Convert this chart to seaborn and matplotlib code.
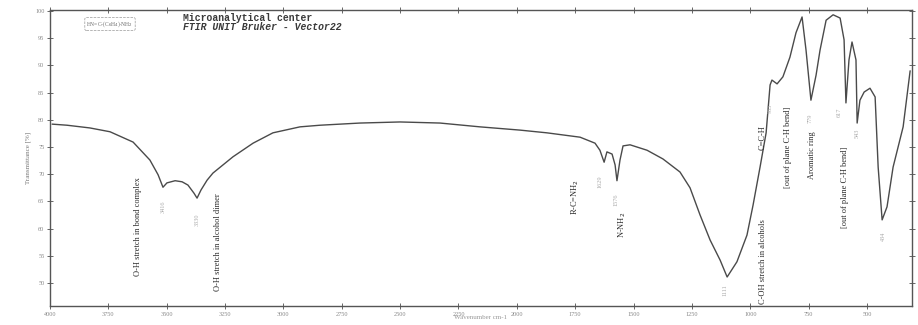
import pandas as pd
import seaborn as sns
import matplotlib.pyplot as plt

# spectrum (wavenumber cm-1, transmittance %)
wavenumber = [3991, 3927, 3829, 3743, 3644, 3572, 3537, 3516, 3499, 3464,
              3434, 3409, 3383, 3370, 3353, 3327, 3302, 3259, 3216, 3130,
              3045, 2929, 2843, 2672, 2500, 2329, 2158, 1986, 1871, 1729,
              1665, 1644, 1626, 1614, 1592, 1579, 1571, 1558, 1545, 1515,
              1442, 1374, 1301, 1258, 1215, 1172, 1129, 1099, 1057, 1014,
              988, 958, 932, 915, 907, 885, 860, 830, 804, 778,
              761, 740, 718, 701, 675, 645, 615, 598, 590, 577,
              564, 547, 542, 530, 512, 487, 465, 452, 435, 414,
              388, 345, 315]
transmittance = [79.2, 79.0, 78.5, 77.8, 75.9, 72.6, 69.9, 67.6, 68.4, 68.8,
                 68.6, 68.0, 66.5, 65.6, 67.1, 68.9, 70.2, 71.7, 73.2, 75.7,
                 77.6, 78.7, 79.0, 79.4, 79.6, 79.4, 78.7, 78.1, 77.6, 76.8,
                 75.7, 74.4, 72.2, 74.1, 73.7, 71.7, 68.8, 72.6, 75.2, 75.4,
                 74.4, 72.8, 70.4, 67.5, 62.5, 57.9, 54.2, 51.1, 53.9, 58.8,
                 64.3, 71.3, 77.6, 86.4, 87.3, 86.6, 87.9, 91.5, 96.0, 98.9,
                 92.8, 83.6, 88.2, 92.8, 98.3, 99.3, 98.7, 94.7, 83.1, 91.0,
                 94.3, 91.0, 79.4, 83.6, 85.1, 85.8, 84.2, 71.3, 61.6, 64.0,
                 71.3, 78.7, 89.0]

x_ticks = [4000, 3750, 3500, 3250, 3000, 2750, 2500, 2250, 2000, 1750,
           1500, 1250, 1000, 750, 500]
y_ticks = [100, 95, 90, 85, 80, 75, 70, 65, 60, 55, 50]

# band assignments: (text, wavenumber, transmittance)
assignments = [
    ("O-H stretch in bond complex", 3623, 60.3),
    ("O-H stretch in alcohol dimer", 3280, 57.5),
    ("R-C=NH$_2$", 1751, 65.8),
    ("N-NH$_2$", 1549, 60.7),
    ("C-OH stretch in alcohols", 945, 53.9),
    ("C=C-H", 949, 76.7),
    ("[out of plane C-H bend]", 838, 75.0),
    ("Aromatic ring", 735, 73.5),
    ("[out of plane C-H bend]", 594, 67.5),
]
peak_labels = [
    ("3416", 3516, 64.0),
    ("3330", 3370, 61.6),
    ("1629", 1644, 68.6),
    ("1576", 1575, 65.3),
    ("1111", 1108, 48.7),
    ("953", 915, 82.2),
    ("779", 744, 80.3),
    ("617", 620, 81.3),
    ("543", 542, 77.6),
    ("434", 431, 58.5),
]

df = pd.DataFrame({"wavenumber": wavenumber, "transmittance": transmittance})

sns.set_style("ticks")
plt.rcParams['font.family'] = ['Liberation Serif', 'DejaVu Sans']

fig = plt.figure(figsize=(9.18, 3.25), dpi=100)
ax = fig.add_axes([50 / 918, 1 - 306 / 325, 862 / 918, 296 / 325])

sns.lineplot(data=df, x="wavenumber", y="transmittance", ax=ax,
             color="#4a4a4a", linewidth=1.0, sort=False)

ax.set_xlim(4000, 307)
ax.set_ylim(45.77, 100.18)
ax.set_xticks(x_ticks)
ax.set_yticks(y_ticks)
ax.tick_params(axis="both", direction="inout", length=4, width=0.7,
               labelsize=4.5, labelcolor="#888888", color="#666666",
               top=True, right=True, pad=2)
for s in ax.spines.values():
    s.set_color("#555555")
    s.set_linewidth(1.0)

ax.set_xlabel("Wavenumber cm-1", fontsize=5, color="#999999", labelpad=-1)
ax.set_ylabel("Transmittance [%]", fontsize=5, color="#777777", labelpad=3)

for txt, wn, t in assignments:
    ax.text(wn, t, txt, rotation=90, ha="center", va="center",
            fontsize=6, color="#2a2a2a")
for txt, wn, t in peak_labels:
    ax.text(wn, t, txt, rotation=90, ha="center", va="center",
            fontsize=4.5, color="#aaaaaa")

# header from the instrument printout
fig.text(183 / 918, 1 - 18 / 325, "Microanalytical center", family="Liberation Mono",
         fontsize=7, color="#3a3a3a", va="center", weight="bold")
fig.text(183 / 918, 1 - 27 / 325, "FTIR UNIT Bruker - Vector22", family="Liberation Mono",
         fontsize=7, color="#3a3a3a", va="center", style="italic", weight="bold")
fig.text(110 / 918, 1 - 24 / 325, "HN=C-(C$_6$H$_4$)-NH$_2$", fontsize=4,
         color="#666666", ha="center", va="center",
         bbox=dict(boxstyle="round,pad=0.3", fc="none", ec="#999999", lw=0.5, ls="--"))

fig.savefig("out.png", dpi=100, facecolor="white")
